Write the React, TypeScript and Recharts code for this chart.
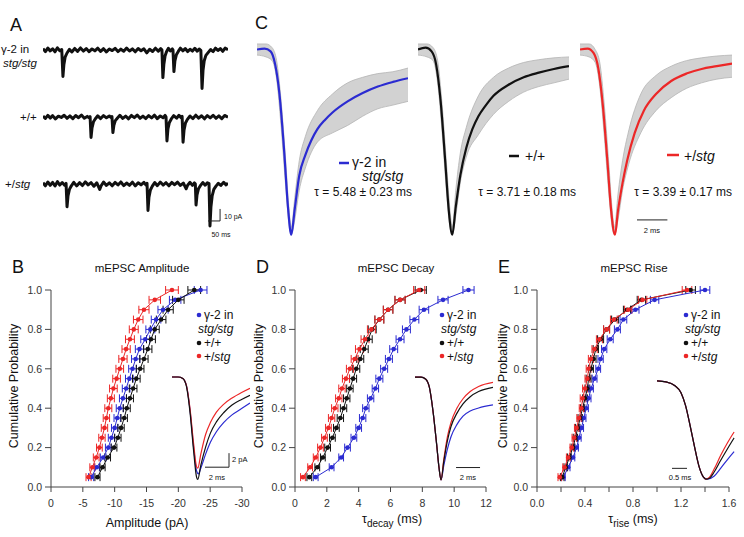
import React from 'react';
import {
  Area,
  ComposedChart,
  ErrorBar,
  Line,
  LineChart,
  ReferenceLine,
  Scatter,
  ScatterChart,
  XAxis,
  YAxis,
} from 'recharts';

const FONT = '"Liberation Sans", Arial, Helvetica, sans-serif';
const BLUE = '#2b2bd1';
const BLACK = '#111111';
const RED = '#ec2727';
const AXIS = '#444444';

// ---- B / D / E : cumulative distributions (20 bins) ----
const probs = [0.05, 0.1, 0.15, 0.2, 0.25, 0.3, 0.35, 0.4, 0.45, 0.5, 0.55, 0.6, 0.65, 0.7, 0.75, 0.8, 0.85, 0.9, 0.95, 1.0];

const ampStg = [-6.3, -7.2, -8.2, -9.0, -9.5, -10.0, -10.4, -10.8, -11.3, -11.8, -12.3, -12.8, -13.3, -13.9, -14.8, -15.6, -16.5, -17.6, -19.5, -23.5];
const ampWt = [-7.3, -8.1, -8.9, -9.9, -10.5, -11.0, -11.5, -11.9, -12.4, -12.9, -13.4, -14.0, -14.6, -15.2, -15.7, -16.3, -17.3, -18.4, -20.0, -22.5];
const ampHet = [-5.9, -6.5, -7.1, -7.6, -8.0, -8.4, -8.7, -9.0, -9.4, -9.8, -10.3, -10.8, -11.3, -11.8, -12.4, -13.0, -13.7, -14.6, -16.3, -19.0];
const ampErr = [0.4, 0.4, 0.45, 0.45, 0.5, 0.5, 0.5, 0.55, 0.55, 0.6, 0.6, 0.6, 0.65, 0.65, 0.7, 0.7, 0.75, 0.8, 0.9, 1.0];

const decayStg = [1.3, 2.3, 2.9, 3.3, 3.7, 4.0, 4.25, 4.45, 4.75, 5.05, 5.3, 5.6, 5.9, 6.2, 6.6, 7.0, 7.5, 8.1, 9.3, 10.9];
const decayWt = [0.9, 1.4, 1.75, 2.05, 2.35, 2.6, 2.85, 3.05, 3.25, 3.45, 3.65, 3.85, 4.1, 4.35, 4.6, 4.85, 5.3, 5.85, 6.6, 7.9];
const decayHet = [0.5, 0.95, 1.3, 1.6, 1.85, 2.1, 2.3, 2.5, 2.75, 2.95, 3.2, 3.45, 3.75, 4.05, 4.4, 4.8, 5.3, 5.85, 6.6, 7.8];
const decayErr = [0.15, 0.15, 0.15, 0.18, 0.18, 0.18, 0.2, 0.2, 0.2, 0.2, 0.22, 0.22, 0.22, 0.25, 0.25, 0.25, 0.28, 0.3, 0.32, 0.35];

const riseStg = [0.22, 0.26, 0.3, 0.33, 0.35, 0.37, 0.39, 0.41, 0.43, 0.45, 0.48, 0.51, 0.53, 0.56, 0.61, 0.67, 0.72, 0.82, 0.98, 1.4];
const riseWt = [0.21, 0.24, 0.27, 0.3, 0.32, 0.34, 0.36, 0.38, 0.4, 0.42, 0.43, 0.45, 0.47, 0.49, 0.53, 0.58, 0.65, 0.75, 0.87, 1.28];
const riseHet = [0.19, 0.23, 0.26, 0.29, 0.31, 0.33, 0.35, 0.37, 0.38, 0.4, 0.42, 0.43, 0.45, 0.48, 0.52, 0.58, 0.64, 0.76, 0.88, 1.25];
const riseErr = [0.015, 0.015, 0.015, 0.015, 0.018, 0.018, 0.018, 0.018, 0.02, 0.02, 0.02, 0.02, 0.022, 0.022, 0.025, 0.025, 0.028, 0.03, 0.035, 0.04];

const yTicks = [0, 0.2, 0.4, 0.6, 0.8, 1.0];
const ampTicks = [0, -5, -10, -15, -20, -25, -30];
const decayTicks = [0, 2, 4, 6, 8, 10, 12];
const riseTicks = [0, 0.2, 0.4, 0.6, 0.8, 1.0, 1.2, 1.4, 1.6];

// ---- insets: averaged mEPSCs [ms, value] ----
const insAmpStg = [[0, 0], [0.5, 0], [0.9, -0.2], [1.2, -1.2], [1.5, -4.7], [1.8, -10.0], [2.05, -13.4], [2.2, -13.8], [2.4, -13.0], [2.8, -11.0], [3.2, -9.3], [3.7, -7.8], [4.3, -6.5], [5.0, -5.4], [5.8, -4.5], [6.5, -3.7]];
const insAmpWt = [[0, 0], [0.5, 0], [0.9, -0.2], [1.2, -1.3], [1.5, -5.0], [1.8, -10.5], [2.05, -14.3], [2.15, -14.6], [2.4, -12.6], [2.8, -10.0], [3.2, -8.0], [3.7, -6.4], [4.3, -5.1], [5.0, -4.0], [5.8, -3.2], [6.5, -2.6]];
const insAmpHet = [[0, 0], [0.5, 0], [0.9, -0.2], [1.2, -1.2], [1.5, -4.5], [1.8, -9.5], [2.05, -12.8], [2.15, -13.0], [2.4, -11.0], [2.8, -8.2], [3.2, -6.5], [3.7, -5.0], [4.3, -3.9], [5.0, -3.0], [5.8, -2.2], [6.5, -1.6]];

const insDecStg = [[0, 0], [0.5, 0], [0.9, -0.02], [1.2, -0.1], [1.5, -0.33], [1.8, -0.65], [2.0, -0.88], [2.17, -1.0], [2.4, -0.86], [2.7, -0.7], [3.0, -0.58], [3.5, -0.46], [4.0, -0.38], [4.6, -0.33], [5.3, -0.3], [6.5, -0.27]];
const insDecWt = [[0, 0], [0.5, 0], [0.9, -0.02], [1.2, -0.1], [1.5, -0.33], [1.8, -0.65], [2.0, -0.88], [2.17, -1.0], [2.4, -0.82], [2.7, -0.62], [3.0, -0.48], [3.5, -0.35], [4.0, -0.26], [4.6, -0.19], [5.3, -0.14], [6.5, -0.1]];
const insDecHet = [[0, 0], [0.5, 0], [0.9, -0.02], [1.2, -0.1], [1.5, -0.33], [1.8, -0.65], [2.0, -0.88], [2.17, -1.0], [2.4, -0.8], [2.7, -0.58], [3.0, -0.44], [3.5, -0.3], [4.0, -0.21], [4.6, -0.14], [5.3, -0.09], [6.5, -0.05]];

const insRiseStg = [[0, 0], [0.3, -0.01], [0.6, -0.05], [0.8, -0.12], [0.95, -0.25], [1.1, -0.45], [1.25, -0.67], [1.4, -0.87], [1.55, -0.98], [1.68, -1.0], [1.9, -0.97], [2.12, -0.89], [2.35, -0.8], [2.57, -0.72]];
const insRiseWt = [[0, 0], [0.3, -0.01], [0.6, -0.05], [0.8, -0.12], [0.95, -0.25], [1.1, -0.45], [1.25, -0.67], [1.4, -0.87], [1.55, -0.98], [1.63, -1.0], [1.75, -0.99], [1.9, -0.93], [2.12, -0.81], [2.35, -0.69], [2.57, -0.58]];
const insRiseHet = [[0, 0], [0.3, -0.01], [0.6, -0.05], [0.8, -0.12], [0.95, -0.25], [1.1, -0.45], [1.25, -0.67], [1.4, -0.87], [1.55, -0.98], [1.63, -1.0], [1.75, -0.98], [1.9, -0.9], [2.12, -0.76], [2.35, -0.63], [2.57, -0.52]];

// ---- C: normalized averaged mEPSCs with individual-cell spread ----
const cStg = [[0, 0], [0.5, 0.005], [0.9, -0.01], [1.2, -0.08], [1.5, -0.25], [1.8, -0.55], [2.05, -0.85], [2.27, -1.0], [2.5, -0.86], [2.8, -0.68], [3.2, -0.57], [3.6, -0.49], [4.0, -0.43], [4.5, -0.38], [5.0, -0.34], [6.0, -0.28], [7.0, -0.235], [8.0, -0.2], [9.0, -0.175], [10, -0.155]];
const cWt = [[0, 0], [0.5, 0.01], [0.9, -0.01], [1.2, -0.08], [1.5, -0.28], [1.8, -0.6], [2.05, -0.88], [2.27, -1.0], [2.5, -0.85], [2.8, -0.68], [3.2, -0.53], [3.6, -0.43], [4.0, -0.36], [4.5, -0.3], [5.0, -0.25], [6.0, -0.19], [7.0, -0.15], [8.0, -0.125], [9.0, -0.105], [10, -0.09]];
const cHet = [[0, 0], [0.5, 0.005], [0.9, -0.02], [1.2, -0.1], [1.5, -0.3], [1.8, -0.6], [2.05, -0.87], [2.3, -1.0], [2.5, -0.87], [2.8, -0.72], [3.1, -0.6], [3.6, -0.45], [4.2, -0.33], [5.0, -0.24], [6.0, -0.17], [7.0, -0.13], [8.0, -0.105], [9.0, -0.09], [10, -0.076]];

const bandT = [0, 0.6, 1.0, 1.3, 1.6, 1.9, 2.1, 2.27, 2.5, 2.8, 3.2, 4, 5, 6, 7, 8, 9, 10];
const bandStgLo = [-0.03, -0.04, -0.06, -0.16, -0.42, -0.74, -0.93, -1.0, -0.92, -0.76, -0.64, -0.5, -0.45, -0.41, -0.36, -0.32, -0.3, -0.28];
const bandStgHi = [0.03, 0.03, 0.01, -0.06, -0.28, -0.6, -0.84, -0.96, -0.8, -0.6, -0.47, -0.33, -0.24, -0.18, -0.15, -0.13, -0.12, -0.1];
const bandWtLo = [-0.03, -0.04, -0.06, -0.18, -0.45, -0.78, -0.95, -1.0, -0.9, -0.72, -0.58, -0.46, -0.35, -0.28, -0.23, -0.2, -0.18, -0.16];
const bandWtHi = [0.03, 0.03, 0.01, -0.06, -0.3, -0.63, -0.85, -0.96, -0.76, -0.56, -0.42, -0.25, -0.15, -0.1, -0.07, -0.055, -0.045, -0.04];
const bandHetLo = [-0.03, -0.04, -0.07, -0.2, -0.47, -0.78, -0.95, -1.0, -0.92, -0.76, -0.62, -0.45, -0.33, -0.26, -0.21, -0.18, -0.16, -0.15];
const bandHetHi = [0.03, 0.03, 0.0, -0.07, -0.3, -0.62, -0.85, -0.96, -0.78, -0.6, -0.44, -0.24, -0.14, -0.09, -0.06, -0.045, -0.035, -0.03];

// ---- A: raw current traces [ms, pA] ----
const rawStg = [[0, 1.2], [10, -1.4], [20, 1.6], [30, -0.8], [40, 1.0], [50, -1.5], [60, 1.8], [70, -0.6], [78, 0.4], [83, -22], [87, -12], [92, -6], [100, -2.5], [110, 0.5], [120, -1.6], [132, 1.3], [144, -1.1], [156, 1.7], [168, -0.9], [180, 1.2], [192, -1.4], [204, 0.9], [216, -0.7], [228, 1.5], [240, -1.2], [252, 1.1], [264, -1.6], [276, 0.8], [288, -0.5], [300, 1.4], [312, -1.3], [324, 0.7], [336, -1.0], [348, 1.6], [360, -0.8], [372, 0.9], [384, -1.5], [396, 1.2], [408, -0.6], [420, 1.0], [432, -2.4], [444, 0.6], [456, -1.2], [468, 1.5], [480, -0.9], [490, 1.1], [495, 0.2], [499, -23], [503, -12], [508, -5], [514, -1.5], [522, 1.4], [530, -0.8], [538, 0.9], [541, 0.1], [545, -18], [549, -9], [555, -4], [563, -1.2], [572, 1.5], [582, -0.7], [592, 1.2], [602, -1.3], [612, 0.6], [622, -0.9], [632, 1.4], [642, -1.0], [650, 0.8], [657, -0.3], [662, -32], [666, -17], [671, -9], [678, -4.5], [688, -2], [698, 0.4], [708, -1.3], [718, 1.5], [728, -0.4], [738, 1.2], [748, -1.1], [758, 1.6], [770, 0.3]];
const rawWt = [[0, 0.8], [10, -1.2], [20, 1.4], [30, -0.9], [40, 1.1], [52, -1.6], [64, 0.7], [76, -0.4], [88, 1.5], [100, -1.1], [112, 0.9], [124, -1.4], [136, 1.2], [148, -0.6], [160, 1.6], [172, -1.0], [184, 0.5], [192, -0.8], [196, 0.3], [200, -17], [204, -9], [210, -4], [218, -1.5], [228, 1.0], [240, -1.3], [252, 1.2], [264, -0.7], [276, 0.9], [284, -0.6], [287, 0.4], [291, -13], [295, -7], [301, -3], [310, -0.8], [320, 1.4], [332, -1.2], [344, 0.8], [356, -1.5], [368, 1.3], [380, -0.5], [392, 1.6], [404, -1.1], [416, 0.7], [428, -1.3], [440, 1.2], [452, -0.8], [464, 1.5], [476, -1.4], [488, 0.9], [500, -0.6], [508, 1.3], [512, 0.2], [516, -20], [520, -10], [526, -4.5], [534, -1.6], [544, 1.1], [556, -1.0], [566, 1.4], [574, -0.5], [579, 0.6], [583, -21], [587, -11], [593, -5], [601, -2], [612, 0.8], [624, -1.3], [636, 1.5], [648, -0.9], [660, 1.0], [672, -1.5], [684, 1.2], [696, -0.7], [708, 1.4], [720, -1.1], [732, 0.9], [744, -1.4], [756, 1.3], [770, -0.2]];
const rawHet = [[0, 1.0], [10, -1.5], [20, 1.7], [30, -1.1], [40, 1.3], [50, -1.7], [60, 2.0], [70, -0.9], [80, 1.2], [90, -1.0], [96, 0.5], [100, -19], [104, -10], [110, -4.5], [118, -1.5], [128, 1.4], [140, -1.6], [152, 1.1], [164, -1.3], [176, 1.8], [188, -0.7], [200, 1.2], [212, -1.9], [224, 1.0], [236, -4.5], [242, -1.5], [252, 1.6], [264, -1.2], [276, 0.9], [288, -1.5], [300, 1.3], [312, -0.8], [324, 1.7], [336, -1.4], [348, 0.8], [360, -1.1], [372, 1.5], [384, -1.6], [396, 1.0], [408, -0.7], [420, 1.4], [429, -1.0], [433, 0.5], [437, -22], [441, -11], [447, -5], [455, -1.8], [465, 1.2], [476, -1.4], [488, 1.6], [500, -0.9], [512, 1.1], [524, -1.5], [536, 1.3], [548, -0.6], [560, 1.5], [572, -1.2], [584, 0.8], [596, -4.0], [602, -1.0], [612, 1.4], [622, -1.1], [630, 0.9], [634, 0.2], [637, -17.5], [641, -9], [647, -4], [655, -1.4], [665, 1.2], [675, -1.0], [684, 1.1], [691, 0.3], [695, -35], [699, -19], [704, -10], [711, -4.5], [720, -1.8], [730, 0.6], [740, -1.2], [752, 1.4], [762, -0.8], [770, 0.9]];

const pts = (arr: number[][]) => arr.map(([t, v]) => ({ t, v }));
const cdf = (xs: number[], errs: number[]) => xs.map((x, i) => ({ x, y: probs[i], ex: errs[i] }));
const band = (lo: number[], hi: number[]) => bandT.map((t, i) => ({ t, lo: lo[i], hi: hi[i] }));

const tickStyle = { fontSize: 10.5, fill: '#333', fontFamily: FONT };

function Dot(props: any) {
  const { cx, cy, fill } = props;
  if (cx == null || cy == null) return null;
  return <circle cx={cx} cy={cy} r={2.3} fill={fill} />;
}

function CdfChart({ left, width, xDomain, xTicks, reversed, fmt, series }: any) {
  return (
    <div style={{ position: 'absolute', left, top: 280 }}>
      <ScatterChart width={width} height={240} margin={{ top: 10, right: 13, bottom: 0, left: 0 }}>
        <XAxis
          type="number"
          dataKey="x"
          domain={xDomain}
          ticks={xTicks}
          reversed={reversed}
          tickFormatter={fmt}
          height={33}
          tickSize={5}
          tickMargin={8}
          tick={tickStyle}
          axisLine={{ stroke: AXIS }}
          tickLine={{ stroke: AXIS }}
          interval={0}
        />
        <YAxis
          type="number"
          dataKey="y"
          domain={[0, 1]}
          ticks={yTicks}
          width={51}
          tickSize={6}
          tickMargin={3}
          tick={tickStyle}
          tickFormatter={(v: number) => v.toFixed(1)}
          axisLine={{ stroke: AXIS }}
          tickLine={{ stroke: AXIS }}
          interval={0}
        />
        {series.map((s: any) => (
          <Scatter
            key={s.name}
            data={s.data}
            fill={s.color}
            shape={<Dot />}
            line={{ stroke: s.color, strokeWidth: 1 }}
            isAnimationActive={false}
          >
            <ErrorBar dataKey="ex" direction="x" width={4} stroke={s.color} strokeWidth={1} isAnimationActive={false} />
          </Scatter>
        ))}
      </ScatterChart>
    </div>
  );
}

function Inset({ left, top, xMax, yDomain, traces, children }: any) {
  return (
    <div style={{ position: 'absolute', left, top }}>
      <LineChart width={78} height={115} margin={{ top: 0, right: 0, bottom: 0, left: 0 }}>
        <XAxis type="number" dataKey="t" domain={[0, xMax]} hide allowDataOverflow />
        <YAxis type="number" domain={yDomain} hide allowDataOverflow />
        {traces.map((tr: any) => (
          <Line
            key={tr.name}
            data={pts(tr.data)}
            dataKey="v"
            type="monotone"
            stroke={tr.color}
            strokeWidth={1.2}
            dot={false}
            isAnimationActive={false}
          />
        ))}
        {children}
      </LineChart>
    </div>
  );
}

function AvgTrace({ left, width, avg, spread, color, children }: any) {
  return (
    <div style={{ position: 'absolute', left, top: 31 }}>
      <ComposedChart width={width} height={213} margin={{ top: 0, right: 0, bottom: 0, left: 0 }}>
        <XAxis type="number" dataKey="t" domain={[0, 10]} hide allowDataOverflow />
        <YAxis type="number" domain={[-1.05, 0.1]} hide allowDataOverflow />
        <Area
          data={spread}
          dataKey={(d: any) => [d.lo, d.hi]}
          type="monotone"
          fill="#d2d2d2"
          fillOpacity={1}
          stroke="#b4b4b4"
          strokeWidth={0.8}
          isAnimationActive={false}
        />
        <Line
          data={pts(avg)}
          dataKey="v"
          type="monotone"
          stroke={color}
          strokeWidth={2.2}
          dot={false}
          isAnimationActive={false}
        />
        {children}
      </ComposedChart>
    </div>
  );
}

function RawTrace({ top, data, children }: any) {
  return (
    <div style={{ position: 'absolute', left: 43, top }}>
      <LineChart width={185} height={66} margin={{ top: 0, right: 0, bottom: 0, left: 0 }}>
        <XAxis type="number" dataKey="t" domain={[0, 770]} hide allowDataOverflow />
        <YAxis type="number" domain={[-50, 5]} hide allowDataOverflow />
        <Line
          data={pts(data)}
          dataKey="v"
          type="linear"
          stroke={BLACK}
          strokeWidth={3}
          strokeLinejoin="round"
          dot={false}
          isAnimationActive={false}
        />
        {children}
      </LineChart>
    </div>
  );
}

function T(props: any) {
  return <text fontFamily={FONT} fill="#111" {...props} />;
}

function Legend3({ x }: { x: number }) {
  return (
    <g fontSize={12}>
      <circle cx={x} cy={315} r={2.3} fill={BLUE} />
      <T x={x + 5} y={319}>γ-2 in</T>
      <T x={x - 1} y={333} fontStyle="italic">stg/stg</T>
      <circle cx={x} cy={343} r={2.3} fill={BLACK} />
      <T x={x + 5} y={347}>+/+</T>
      <circle cx={x} cy={356} r={2.3} fill={RED} />
      <T x={x + 5} y={360.5}>
        +/<tspan fontStyle="italic">stg</tspan>
      </T>
    </g>
  );
}

const bar = { stroke: '#222', strokeWidth: 1, ifOverflow: 'visible' as const };

export default function App() {
  return (
    <div style={{ position: 'absolute', left: 0, top: 0, width: 744, height: 537, background: '#fff', overflow: 'hidden' }}>
      {/* A */}
      <RawTrace top={44} data={rawStg} />
      <RawTrace top={111} data={rawWt} />
      <RawTrace top={178} data={rawHet}>
        <ReferenceLine segment={[{ x: 737, y: -20.8 }, { x: 737, y: -30.8 }]} {...bar} />
        <ReferenceLine segment={[{ x: 687, y: -30.8 }, { x: 737, y: -30.8 }]} {...bar} />
      </RawTrace>

      {/* C */}
      <AvgTrace left={257} width={151} avg={cStg} spread={band(bandStgLo, bandStgHi)} color={BLUE} />
      <AvgTrace left={418} width={151} avg={cWt} spread={band(bandWtLo, bandWtHi)} color={BLACK} />
      <AvgTrace left={580} width={152} avg={cHet} spread={band(bandHetLo, bandHetHi)} color={RED}>
        <ReferenceLine segment={[{ x: 3.75, y: -0.92 }, { x: 5.75, y: -0.92 }]} {...bar} />
      </AvgTrace>

      {/* B, D, E */}
      <CdfChart
        left={0}
        width={255}
        xDomain={[-30, 0]}
        xTicks={ampTicks}
        reversed
        fmt={(v: number) => String(v)}
        series={[
          { name: 'stg', data: cdf(ampStg, ampErr), color: BLUE },
          { name: 'het', data: cdf(ampHet, ampErr), color: RED },
          { name: 'wt', data: cdf(ampWt, ampErr), color: BLACK },
        ]}
      />
      <CdfChart
        left={244}
        width={255}
        xDomain={[0, 12]}
        xTicks={decayTicks}
        reversed={false}
        fmt={(v: number) => String(v)}
        series={[
          { name: 'stg', data: cdf(decayStg, decayErr), color: BLUE },
          { name: 'wt', data: cdf(decayWt, decayErr), color: BLACK },
          { name: 'het', data: cdf(decayHet, decayErr), color: RED },
        ]}
      />
      <CdfChart
        left={486}
        width={256}
        xDomain={[0, 1.6]}
        xTicks={riseTicks}
        reversed={false}
        fmt={(v: number) => (Math.round(v * 10) % 4 === 0 ? v.toFixed(1) : '')}
        series={[
          { name: 'stg', data: cdf(riseStg, riseErr), color: BLUE },
          { name: 'wt', data: cdf(riseWt, riseErr), color: BLACK },
          { name: 'het', data: cdf(riseHet, riseErr), color: RED },
        ]}
      />

      {/* insets */}
      <Inset
        left={172}
        top={370}
        xMax={6.5}
        yDomain={[-15.4, 1]}
        traces={[
          { name: 'stg', data: insAmpStg, color: BLUE },
          { name: 'het', data: insAmpHet, color: RED },
          { name: 'wt', data: insAmpWt, color: BLACK },
        ]}
      >
        <ReferenceLine segment={[{ x: 4.75, y: -10.86 }, { x: 4.75, y: -12.86 }]} {...bar} />
        <ReferenceLine segment={[{ x: 2.75, y: -12.86 }, { x: 4.75, y: -12.86 }]} {...bar} />
      </Inset>
      <Inset
        left={415}
        top={370}
        xMax={6.5}
        yDomain={[-1.05, 0.07]}
        traces={[
          { name: 'stg', data: insDecStg, color: BLUE },
          { name: 'het', data: insDecHet, color: RED },
          { name: 'wt', data: insDecWt, color: BLACK },
        ]}
      >
        <ReferenceLine segment={[{ x: 3.42, y: -0.88 }, { x: 5.42, y: -0.88 }]} {...bar} />
      </Inset>
      <Inset
        left={657}
        top={374}
        xMax={2.6}
        yDomain={[-1.1, 0.07]}
        traces={[
          { name: 'stg', data: insRiseStg, color: BLUE },
          { name: 'het', data: insRiseHet, color: RED },
          { name: 'wt', data: insRiseWt, color: BLACK },
        ]}
      >
        <ReferenceLine segment={[{ x: 0.5, y: -0.89 }, { x: 1.0, y: -0.89 }]} {...bar} />
      </Inset>

      {/* text layer */}
      <svg width={744} height={537} style={{ position: 'absolute', left: 0, top: 0, pointerEvents: 'none' }}>
        <g fontSize={18}>
          <T x={10} y={31}>A</T>
          <T x={12} y={273}>B</T>
          <T x={255} y={29}>C</T>
          <T x={256} y={273}>D</T>
          <T x={498} y={273}>E</T>
        </g>

        {/* A labels */}
        <g fontSize={11.5}>
          <T x={1} y={53}>γ-2 in</T>
          <T x={3} y={66.5} fontStyle="italic">stg/stg</T>
          <T x={20} y={121}>+/+</T>
          <T x={5} y={188}>
            +/<tspan fontStyle="italic">stg</tspan>
          </T>
        </g>
        <T x={224} y={219} fontSize={7}>10 pA</T>
        <T x={221} y={237} fontSize={7} textAnchor="middle">50 ms</T>

        {/* C labels */}
        <line x1={339} x2={349} y1={163} y2={163} stroke={BLUE} strokeWidth={2.5} />
        <T x={352} y={167} fontSize={14}>γ-2 in</T>
        <T x={362} y={181} fontSize={14} fontStyle="italic">stg/stg</T>
        <T x={412} y={196} fontSize={12} textAnchor="end">τ = 5.48 ± 0.23 ms</T>
        <line x1={509} x2={519} y1={156} y2={156} stroke={BLACK} strokeWidth={2.5} />
        <T x={525} y={161} fontSize={14}>+/+</T>
        <T x={576} y={196} fontSize={12} textAnchor="end">τ = 3.71 ± 0.18 ms</T>
        <line x1={667} x2={679} y1={155} y2={155} stroke={RED} strokeWidth={2.5} />
        <T x={684} y={161} fontSize={14}>
          +/<tspan fontStyle="italic">stg</tspan>
        </T>
        <T x={732} y={196} fontSize={12} textAnchor="end">τ = 3.39 ± 0.17 ms</T>
        <T x={652} y={233} fontSize={7.5} textAnchor="middle">2 ms</T>

        {/* titles */}
        <g fontSize={11.5} textAnchor="middle" fill="#222">
          <T x={142} y={272}>mEPSC Amplitude</T>
          <T x={396} y={272}>mEPSC Decay</T>
          <T x={634} y={272}>mEPSC Rise</T>
        </g>

        {/* axis titles */}
        <g fontSize={12.5} textAnchor="middle">
          <T x={18} y={386} transform="rotate(-90 18 386)" textAnchor="middle">Cumulative Probability</T>
          <T x={263} y={386} transform="rotate(-90 263 386)" textAnchor="middle">Cumulative Probability</T>
          <T x={507} y={386} transform="rotate(-90 507 386)" textAnchor="middle">Cumulative Probability</T>
          <T x={147} y={527} textAnchor="middle">Amplitude (pA)</T>
          <T x={392} y={523} textAnchor="middle">
            τ<tspan fontSize={10} dy={4}>decay</tspan>
            <tspan dy={-4}> (ms)</tspan>
          </T>
          <T x={633} y={523} textAnchor="middle">
            τ<tspan fontSize={10} dy={4}>rise</tspan>
            <tspan dy={-4}> (ms)</tspan>
          </T>
        </g>

        {/* legends */}
        <Legend3 x={199} />
        <Legend3 x={442} />
        <Legend3 x={686} />

        {/* inset scale labels */}
        <T x={232} y={462} fontSize={7.5}>2 pA</T>
        <T x={217} y={480} fontSize={7.5} textAnchor="middle">2 ms</T>
        <T x={468} y={480} fontSize={7.5} textAnchor="middle">2 ms</T>
        <T x={680} y={480} fontSize={7.5} textAnchor="middle">0.5 ms</T>
      </svg>
    </div>
  );
}
